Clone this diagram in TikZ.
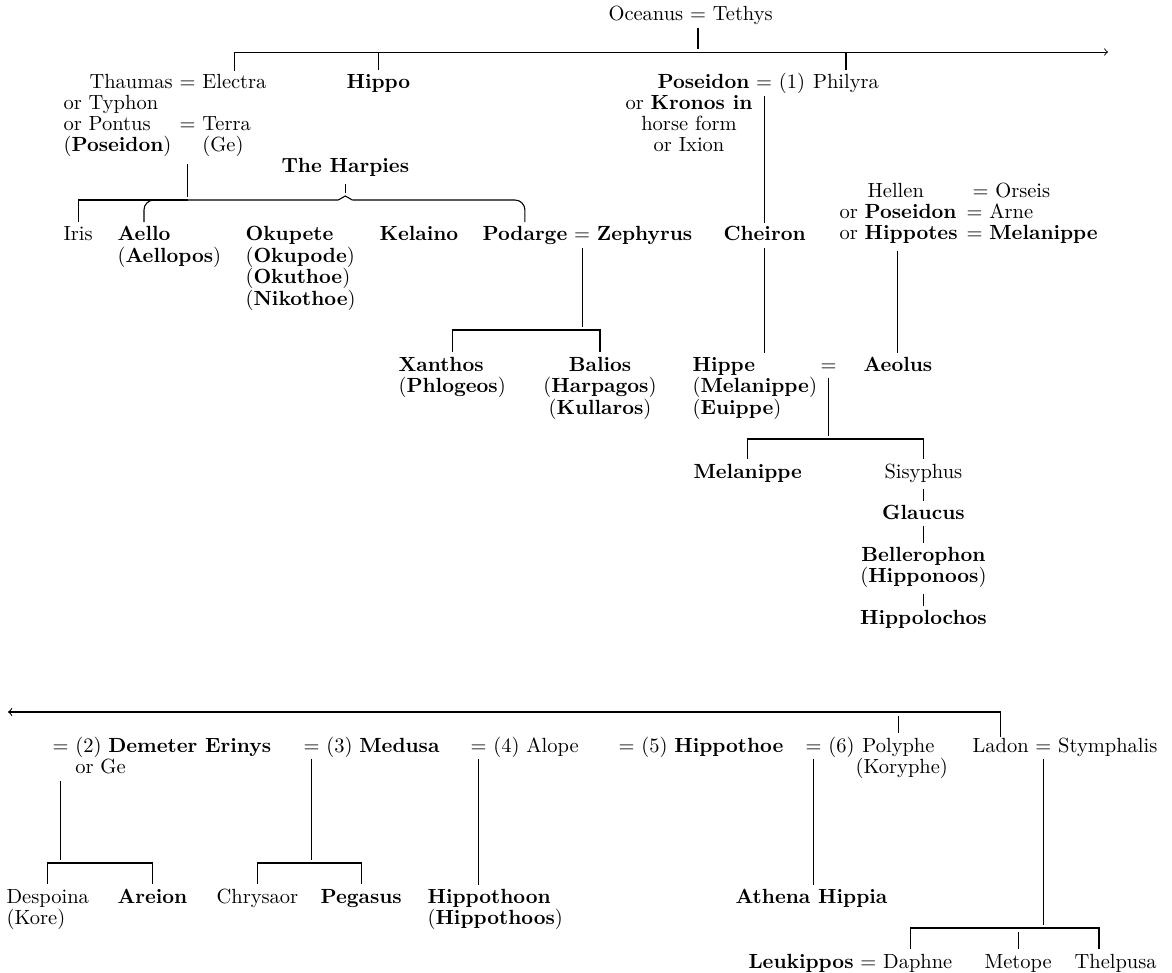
\documentclass[tikz,border=0pt]{standalone}
\usepackage{fontspec}
\usetikzlibrary{calc}

\begin{document}
\begin{tikzpicture}[x=.5pt, y=-.5pt, line width=.55pt, font=\fontsize{10.25}{10.75}\selectfont]
    \tikzstyle{person} = [inner sep=0pt, anchor=base west]
    \tikzstyle{equine} = [person, font=\fontsize{10.25}{10.75}\selectfont\bfseries]
    \tikzstyle{wed} = [inner sep=0pt, anchor=base west]
    \tikzstyle{descent} = [shorten <=3pt, shorten >=1.5pt]
    \tikzstyle{issue} = [shorten >=2pt]
    \tikzstyle{branch} = [shorten <=2pt, shorten >=2pt]

    \useasboundingbox (0, 0) rectangle (1172, 973);

    % Oceanus and Tethys ---------------------------------
    \node (ocean) at (608, 21) [person] {Oceanus};
    \node (oceq) at ($(ocean.base east) + (5.7, 0)$) [wed] {=};
    \node (tethys) at ($(oceq.base east) + (5.7, 0)$) [person] {Tethys};

    \coordinate (topR) at (1108, 52);

    \node (thaumas) at (89, 89) [person] {Thaumas};
    \node (thaeq) at ($(thaumas.base east) + (5.7, 0)$) [wed] {=};
    \node (electra) at ($(thaeq.base east) + (5.7, 0)$) [person] {Electra};
    \node (typhon) at (63, 110) [person] {or Typhon};
    \node (pontus) at (63, 131) [person] {or Pontus};
    \node (ponteq) at ($(thaeq.base west) + (0, 42)$) [wed] {=};
    \node (terra) at ($(ponteq.base east) + (5.7, 0)$) [person] {Terra};
    \node (poseidon0) at (63, 152) [person] {(\textbf{Poseidon})};
    \node (ge) at ($(terra.base west) + (0, 21)$) [person] {(Ge)};

    \node (hippo) at (346, 89) [equine] {Hippo};

    \node (poseidon) at (657, 89) [equine] {Poseidon};
    \node (poseq) at ($(poseidon.base east) + (5.7, 0)$) [wed] {=};
    \node (first) at ($(poseq.base east) + (5.7, 0)$) [person] {(1)};
    \node (philyra) at ($(first.base east) + (6.8, 0)$) [person] {Philyra};
    \node (kronos) at (689, 110) [person, anchor=base] {or \textbf{Kronos in}};
    \node (horse) at ($(kronos.base) + (0, 21)$) [person, anchor=base] {horse form};
    \node (ixion) at ($(horse.base) + (0, 21)$) [person, anchor=base] {or Ixion};

    \draw [descent] (oceq.south) -- (oceq.south |- topR);
    \draw [->, shorten <=1.5pt, line width=.45pt] (electra.north) |- (topR);
    \draw [issue] (hippo.north |- topR) -- (hippo.north);
    \draw [issue] (philyra.north |- topR) -- (philyra.north);
    % ---------------------------------------------------

    % Thaumas line, the Harpies --------------------------
    \coordinate (bar1) at (0, 200);
    \node (harpies) at (281, 173) [equine] {The Harpies};
    \node (iris) at (63, 241) [person] {Iris};
    \node (aello) at (117, 241) [equine] {Aello};
    \node (aellopos) at ($(aello.base west) + (0, 21.5)$) [person] {(\textbf{Aellopos})};
    \node (okupete) at (245, 241) [equine] {Okupete};
    \node (okupode) at ($(okupete.base west) + (0, 21.5)$) [person] {(\textbf{Okupode})};
    \node (okuthoe) at ($(okupode.base west) + (0, 21.5)$) [person] {(\textbf{Okuthoe})};
    \node (nikothoe) at ($(okuthoe.base west) + (0, 21.5)$) [person] {(\textbf{Nikothoe})};
    \node (kelaino) at (379, 241) [equine] {Kelaino};
    \node (podarge) at (482, 241) [equine] {Podarge};
    \node (podeq) at ($(podarge.base east) + (5.7, 0)$) [wed] {=};
    \node (zephyrus) at ($(podeq.base east) + (5.7, 0)$) [equine] {Zephyrus};
    \node (cheiron) at (723, 241) [equine] {Cheiron};

    \coordinate (harptip) at ($(harpies.south |- bar1) + (0, -4)$);
    \coordinate (harpL) at ($(harptip) + (-7, 4)$);
    \coordinate (harpR) at ($(harptip) + (7, 4)$);

    \draw [descent] (ponteq.south |- ge.south) -- (ponteq.south |- bar1);
    \draw [issue] (ponteq.south |- bar1) -| (iris.north);
    \draw [issue, rounded corners=5pt] (harpL) -| (aello.north);
    \draw [issue, rounded corners=5pt] (harpR) -| (podarge.north);
    \draw (harpL) -- (harptip) -- (harpR);
    \draw [descent] (harpies.south) -- (harptip);

    % Podarge and Zephyrus
    \coordinate (bar3) at (0, 330);
    \node (xanthos) at (398, 371) [equine] {Xanthos};
    \node (phlogeos) at ($(xanthos.base west) + (0, 21.5)$) [person] {(\textbf{Phlogeos})};
    \node (balios) at (600, 371) [equine, anchor=base] {Balios};
    \node (harpagos) at ($(balios.base) + (0, 21.5)$) [person, anchor=base] {(\textbf{Harpagos})};
    \node (kullaros) at ($(harpagos.base) + (0, 21.5)$) [person, anchor=base] {(\textbf{Kullaros})};

    \draw [descent] (podeq.south) -- (podeq.south |- bar3);
    \draw [branch] (phlogeos.north |- xanthos.north) |- (bar3 -| balios.north) -- (balios.north);
    % ---------------------------------------------------

    % Cheiron, Hellen and Aeolus -------------------------
    \node (hellen) at (867, 198) [person] {Hellen};
    \node (helleq) at (972, 198) [wed] {=};
    \node (orseis) at ($(helleq.base east) + (5.7, 0)$) [person] {Orseis};
    \node (orposeidon) at (839, 219) [person] {or \textbf{Poseidon}};
    \node (arneq) at (966, 219) [wed] {=};
    \node (arne) at ($(arneq.base east) + (5.7, 0)$) [person] {Arne};
    \node (hippotes) at (839, 240) [person] {or \textbf{Hippotes}};
    \node (hipteq) at (966, 240) [wed] {=};
    \node (melanippe) at ($(hipteq.base east) + (5.7, 0)$) [equine] {Melanippe};

    \node (hippe) at (692, 371) [equine] {Hippe};
    \node (hippe2) at ($(hippe.base west) + (0, 21.5)$) [person] {(\textbf{Melanippe})};
    \node (hippe3) at ($(hippe2.base west) + (0, 21.5)$) [person] {(\textbf{Euippe})};
    \node (hippeq) at (820, 371) [wed] {=};
    \node (aeolus) at (863, 371) [equine] {Aeolus};

    \draw [descent] (cheiron.north |- poseq.south) -- (cheiron.north);
    \draw [descent] (cheiron.south) -- (cheiron.south |- hippe.north);
    \draw [descent] (aeolus.north |- hippotes.south) -- (aeolus.north);

    % Hippe and Aeolus
    \coordinate (bar4) at (0, 439);
    \node (melanippe3) at (693, 478) [equine] {Melanippe};
    \node (sisyphus) at (884, 478) [person] {Sisyphus};
    \node (glaucus) at ($(sisyphus.base) + (0, 41)$) [equine, anchor=base] {Glaucus};
    \node (bellerophon) at ($(glaucus.base) + (0, 42)$) [equine, anchor=base] {Bellerophon};
    \node (hipponoos) at ($(bellerophon.base) + (0, 21.5)$) [person, anchor=base] {(\textbf{Hipponoos})};
    \node (hippolochos) at ($(hipponoos.base) + (0, 41.5)$) [equine, anchor=base] {Hippolochos};

    \draw [descent] (hippeq.south) -- (hippeq.south |- bar4);
    \draw [branch] (melanippe3.north) |- (bar4 -| sisyphus.north) -- (sisyphus.north);
    \draw [descent] (sisyphus.south) -- (glaucus.north);
    \draw [descent] (glaucus.south) -- (bellerophon.north);
    \draw [descent] (hipponoos.south) -- (hippolochos.north);
    % ---------------------------------------------------

    % Poseidon's other wives -----------------------------
    \coordinate (botL) at (8, 712);
    \node (ladon) at (972, 752) [person] {Ladon};
    \node (ladeq) at ($(ladon.base east) + (5.7, 0)$) [wed] {=};
    \node (stymphalis) at ($(ladeq.base east) + (5.7, 0)$) [person] {Stymphalis};

    \node (eq2) at (52, 752) [wed] {=};
    \node (wife2) at ($(eq2.base east) + (5.7, 0)$) [person] {(2) \textbf{Demeter Erinys}};
    \node (orge) at ($(wife2.base west) + (0, 21.5)$) [person] {or Ge};
    \node (eq3) at (303, 752) [wed] {=};
    \node (wife3) at ($(eq3.base east) + (5.7, 0)$) [person] {(3) \textbf{Medusa}};
    \node (eq4) at (470, 752) [wed] {=};
    \node (wife4) at ($(eq4.base east) + (5.7, 0)$) [person] {(4) Alope};
    \node (eq5) at (618, 752) [wed] {=};
    \node (wife5) at ($(eq5.base east) + (5.7, 0)$) [person] {(5) \textbf{Hippothoe}};
    \node (eq6) at (805, 752) [wed] {=};
    \node (sixth) at ($(eq6.base east) + (5.7, 0)$) [person] {(6)};
    \node (polyphe) at ($(sixth.base east) + (6.8, 0)$) [person] {Polyphe};
    \node (koryphe) at (855, 773.5) [person] {(Koryphe)};

    \draw [->] (ladon.north) |- (botL);
    \draw [branch] (polyphe.north |- botL) -- (polyphe.north);

    % children
    \coordinate (bar2) at (0, 863);
    \node (despoina) at (6, 903) [person] {Despoina};
    \node (kore) at ($(despoina.base west) + (0, 21.5)$) [person] {(Kore)};
    \node (areion) at (117, 903) [equine] {Areion};
    \node (chrysaor) at (216, 903) [person] {Chrysaor};
    \node (pegasus) at (320, 903) [equine] {Pegasus};
    \node (hippothoon) at (427, 903) [equine] {Hippothoon};
    \node (hippothoos) at ($(hippothoon.base west) + (0, 21.5)$) [person] {(\textbf{Hippothoos})};
    \node (athena) at (735, 903) [equine] {Athena Hippia};

    \draw [descent] (eq2.south |- orge.south) -- (eq2.south |- bar2);
    \draw [branch] (despoina.north) |- (bar2 -| areion.north) -- (areion.north);
    \draw [descent] (eq3.south) -- (eq3.south |- bar2);
    \draw [branch] (chrysaor.north) |- (bar2 -| pegasus.north) -- (pegasus.north);
    \draw [descent] (eq4.south) -- (eq4.south |- hippothoon.north);
    \draw [descent] (eq6.south) -- (eq6.south |- athena.north);

    % Ladon and Stymphalis
    \coordinate (bar5) at (0, 928);
    \node (leukippos) at (748, 968) [equine] {Leukippos};
    \node (leukeq) at ($(leukippos.base east) + (5.7, 0)$) [wed] {=};
    \node (daphne) at ($(leukeq.base east) + (5.7, 0)$) [person] {Daphne};
    \node (metope) at (984, 968) [person] {Metope};
    \node (thelpusa) at (1074, 968) [person] {Thelpusa};

    \coordinate (daphneleg) at ($(daphne.north west)!.4!(daphne.north east)$);
    \coordinate (thelpusaleg) at ($(thelpusa.north west)!.3!(thelpusa.north east)$);

    \draw [descent] (ladeq.south) -- (ladeq.south |- bar5);
    \draw [branch] (daphneleg) |- (bar5 -| thelpusaleg) -- (thelpusaleg);
    \draw [branch] (metope.north |- bar5) -- (metope.north);
    % ---------------------------------------------------
\end{tikzpicture}
\end{document}
